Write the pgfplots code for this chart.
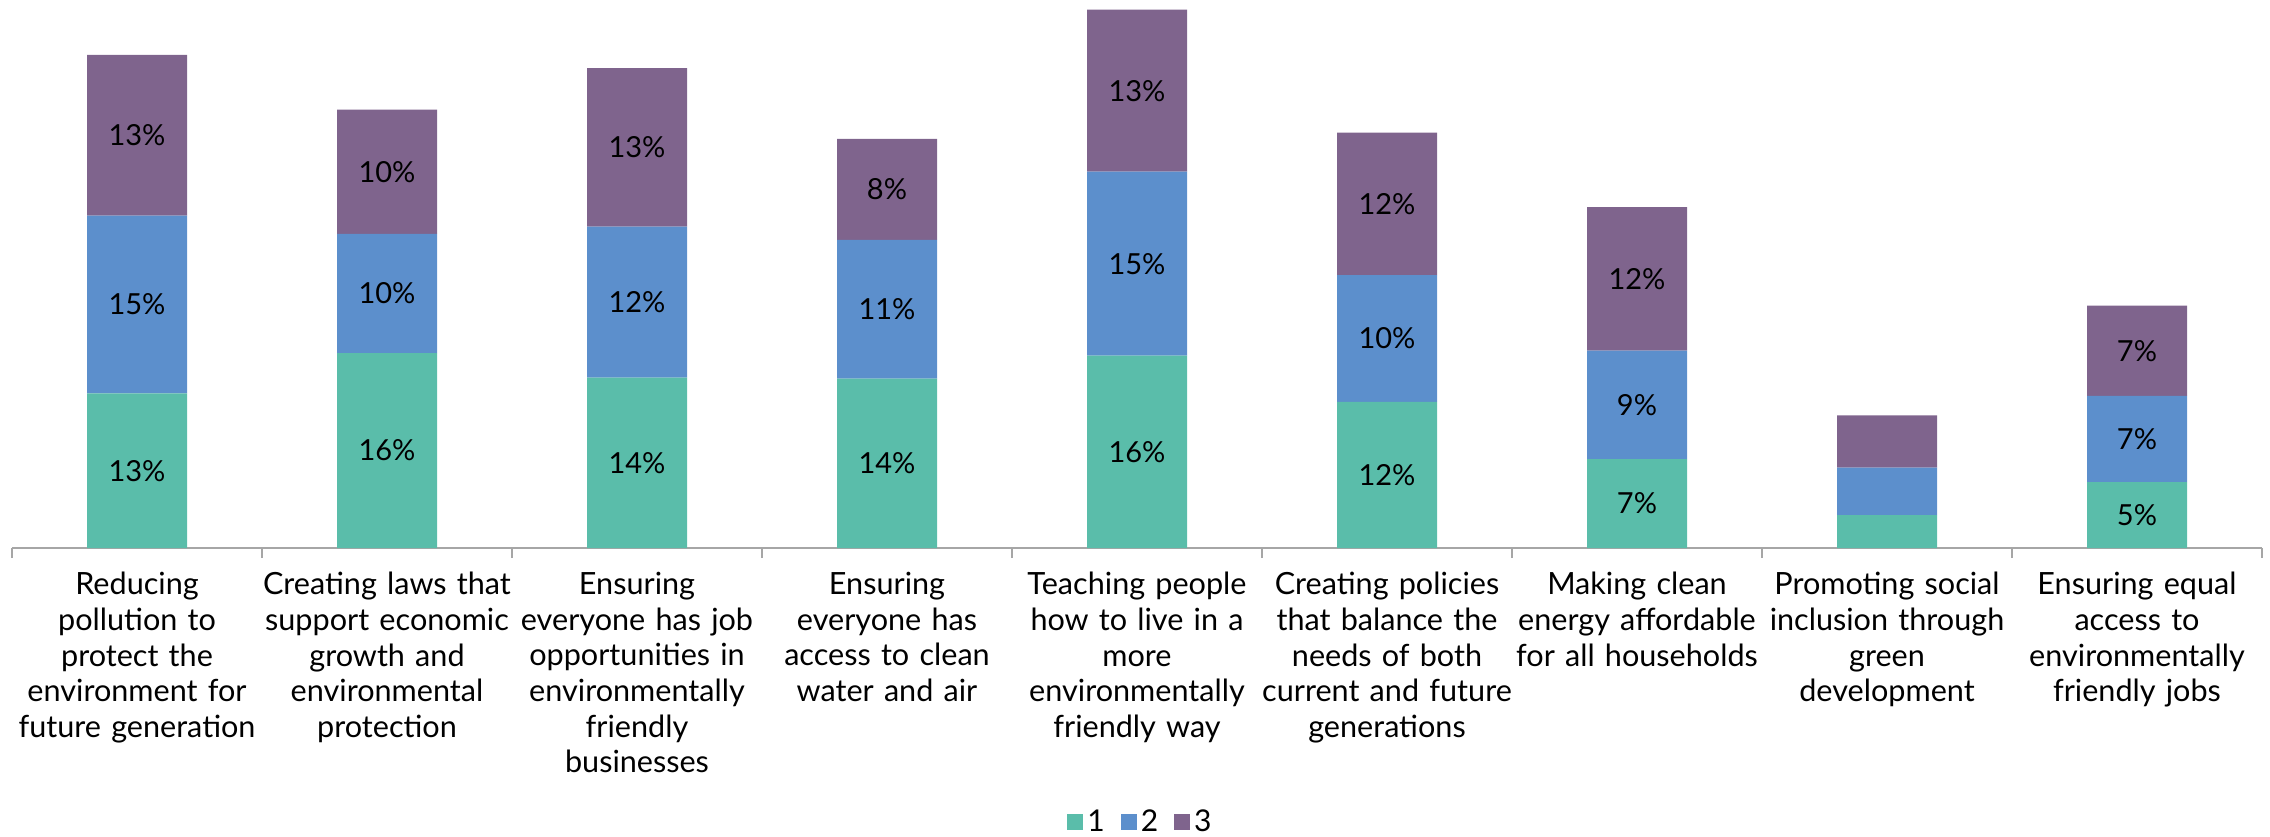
\documentclass[border=0pt]{standalone}
\usepackage{pgfplots}
\pgfplotsset{compat=1.18}
\usepackage{pgfplotstable}
\usepackage{fontspec}
\setmainfont{Lato}
\definecolor{cA}{RGB}{90,189,170}
\definecolor{cB}{RGB}{92,143,204}
\definecolor{cC}{RGB}{127,100,141}
\pgfplotstableread{
x a la b lb c lc
0 12.7 13\% 14.6 15\% 13.2 13\%
1 16.0 16\% 9.8 10\% 10.2 10\%
2 14.0 14\% 12.4 12\% 13.0 13\%
3 13.9 14\% 11.4 11\% 8.3 8\%
4 15.8 16\% 15.1 15\% 13.3 13\%
5 12.0 12\% 10.4 10\% 11.7 12\%
6 7.3 7\% 8.9 9\% 11.8 12\%
7 2.7 {} 3.9 {} 4.3 {}
8 5.4 5\% 7.1 7\% 7.4 7\%
}\data
\begin{document}
\begin{tikzpicture}
\begin{axis}[
  name=ax,
  width=1125pt, height=274pt, scale only axis,
  ybar stacked, bar width=50pt,
  xmin=-0.5, xmax=8.5, ymin=0, ymax=45,
  axis x line*=bottom, axis y line=none,
  axis line style={draw=gray!70, line width=1pt},
  xtick={0,...,8},
  minor xtick={-0.5,0.5,...,8.5},
  major tick length=0pt, minor tick length=5pt, tick align=outside,
  minor tick style={draw=gray!70, line width=1pt},
  xticklabels={
    {Reducing\\pollution to\\protect the\\environment for\\future generation},
    {Creating laws that\\support economic\\growth and\\environmental\\protection},
    {Ensuring\\everyone has job\\opportunities in\\environmentally\\friendly\\businesses},
    {Ensuring\\everyone has\\access to clean\\water and air},
    {Teaching people\\how to live in a\\more\\environmentally\\friendly way},
    {Creating policies\\that balance the\\needs of both\\current and future\\generations},
    {Making clean\\energy affordable\\for all households},
    {Promoting social\\inclusion through\\green\\development},
    {Ensuring equal\\access to\\environmentally\\friendly jobs}},
  xticklabel style={text width=140pt, align=center, inner sep=0pt,
    font=\fontsize{15.3}{17.8}\selectfont, yshift=-12pt},
  point meta=explicit symbolic,
  nodes near coords,
  every node near coord/.append style={anchor=center,
    font=\fontsize{14.5}{16}\selectfont, text=black},
  legend style={at={(0.502,-0.5)}, anchor=center, draw=none, fill=none,
    legend columns=-1, font=\fontsize{15}{18}\selectfont,
    /tikz/every even column/.append style={column sep=6pt}},
  legend image code/.code={\fill[#1] (0pt,-4pt) rectangle (8pt,4pt);},
  clip=false,
]
\addplot[fill=cA, draw=none] table[x=x, y=a, meta=la] {\data};
\addplot[fill=cB, draw=none] table[x=x, y=b, meta=lb] {\data};
\addplot[fill=cC, draw=none] table[x=x, y=c, meta=lc] {\data};
\legend{1,2,3}
\end{axis}
\pgfresetboundingbox
\path[use as bounding box] ([xshift=-6pt,yshift=-144pt]ax.south west) rectangle ([xshift=4pt]ax.north east);
\end{tikzpicture}
\end{document}
